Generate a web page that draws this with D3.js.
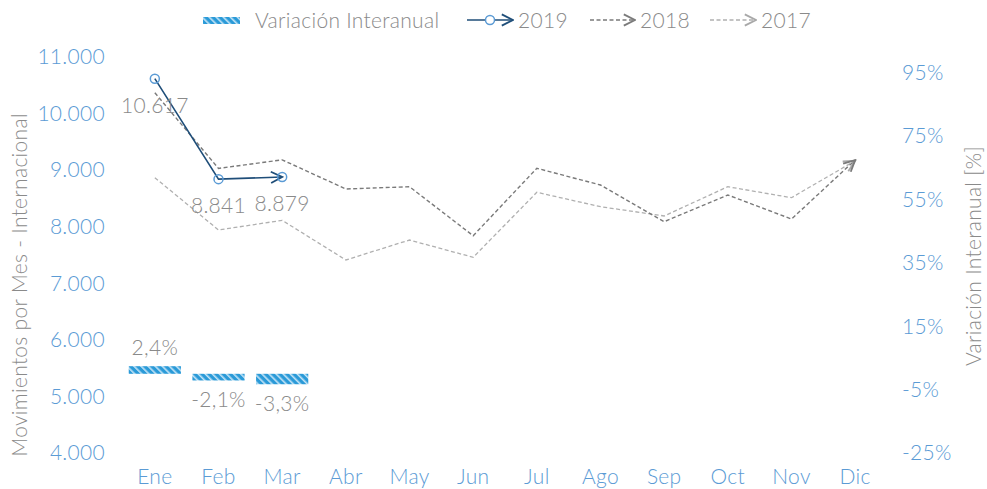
<!DOCTYPE html>
<html>
<head>
<meta charset="utf-8">
<script src="https://cdn.jsdelivr.net/npm/d3@7"></script>
<style>
  body { margin: 0; background: #fff; }
  svg { font-family: "Lato", "Open Sans", sans-serif; font-weight: 300; letter-spacing: 0.3px; }
</style>
</head>
<body>
<div id="graphContainer"></div>
<script>
// monthly international movements, with year-on-year change for 2019

var months = ["Ene", "Feb", "Mar", "Abr", "May", "Jun", "Jul", "Ago", "Sep", "Oct", "Nov", "Dic"];
var mov2019 = [10617, 8841, 8879];
var mov2018 = [10368, 9031, 9182, 8667, 8707, 7841, 9033, 8737, 8089, 8561, 8136, 9179];
var mov2017 = [8867, 7942, 8113, 7412, 7765, 7459, 8608, 8354, 8190, 8707, 8513, 9167];
var variacion = [2.4, -2.1, -3.3];
var leftTicks = [4000, 5000, 6000, 7000, 8000, 9000, 10000, 11000];
var rightTicks = [-25, -5, 15, 35, 55, 75, 95];

var width = 987, height = 489;
var padTop = 57, padBottom = 453, padLeft = 123, padRight = 887;
var fs = 21;

var blue = "#5b9bd5", gray = "#8a8a8a";

var svg = d3.select("#graphContainer")
  .append("svg")
  .attr("width", width)
  .attr("height", height);

var locale = d3.formatLocale({decimal: ",", thousands: ".", grouping: [3], currency: ["$", ""], minus: "-"});
var fmtN = locale.format(",.0f");
var fmtP = locale.format(".1f");

var xScale = d3.scaleBand().domain(months).range([padLeft, padRight]);
var yScale = d3.scaleLinear().domain([4000, 11000]).range([padBottom, padTop]);
var y2Scale = d3.scaleLinear().domain([-25, 100]).range([padBottom, padTop]);
var cx = function(i) { return xScale(months[i]) + xScale.bandwidth() / 2; };

// stripe pattern for the bars
var defs = svg.append("defs");
var pat = defs.append("pattern")
  .attr("id", "stripes")
  .attr("patternUnits", "userSpaceOnUse")
  .attr("width", 5).attr("height", 5)
  .attr("patternTransform", "rotate(-45)");
pat.append("rect").attr("width", 5).attr("height", 5).attr("fill", "#2a9ad8");
pat.append("rect").attr("width", 1.6).attr("height", 5).attr("fill", "#c4e4f6");

function arrow(id, color, size) {
  defs.append("marker")
    .attr("id", id)
    .attr("viewBox", "0 0 10 10")
    .attr("refX", 9).attr("refY", 5)
    .attr("markerUnits", "userSpaceOnUse")
    .attr("markerWidth", size).attr("markerHeight", size)
    .attr("orient", "auto")
    .append("path")
    .attr("d", "M1,1 L9,5 L1,9")
    .attr("fill", "none")
    .attr("stroke", color)
    .attr("stroke-width", 1.3);
}
arrow("arr19", "#1f4e79", 14);
arrow("arr18", "#7a7a7a", 14);
arrow("arr17", "#a8a8a8", 14);

// axes
var yAxis = d3.axisLeft(yScale).tickValues(leftTicks).tickFormat(fmtN).tickSize(0).tickPadding(18);
var gy = svg.append("g").attr("transform", `translate(${padLeft},0)`).call(yAxis);
var y2Axis = d3.axisRight(y2Scale).tickValues(rightTicks).tickFormat(function(d) { return d + "%"; }).tickSize(0).tickPadding(15);
var gy2 = svg.append("g").attr("transform", `translate(${padRight},0)`).call(y2Axis);
var xAxis = d3.axisBottom(xScale).tickSize(0).tickPadding(12);
var gx = svg.append("g").attr("transform", `translate(0,${padBottom})`).call(xAxis);

[gy, gy2, gx].forEach(function(g) {
  g.select(".domain").remove();
  g.selectAll("text")
    .attr("fill", blue)
    .attr("font-family", "Lato, sans-serif")
    .attr("font-weight", 300)
    .attr("font-size", fs);
});
gx.selectAll("text").attr("dy", "0.9em");

svg.append("text")
  .attr("transform", `translate(27,${(padTop + padBottom) / 2 + 30}) rotate(-90)`)
  .attr("text-anchor", "middle")
  .attr("fill", gray)
  .attr("font-size", fs)
  .text("Movimientos por Mes - Internacional");

svg.append("text")
  .attr("transform", `translate(981,256) rotate(-90)`)
  .attr("text-anchor", "middle")
  .attr("fill", gray)
  .attr("font-size", fs)
  .text("Variación Interanual [%]");

// variation bars
var bw = xScale.bandwidth() * 0.82;
svg.selectAll(".bar")
  .data(variacion)
  .join("rect")
  .attr("class", "bar")
  .attr("x", function(d, i) { return cx(i) - bw / 2; })
  .attr("y", function(d) { return y2Scale(Math.max(0, d)); })
  .attr("width", bw)
  .attr("height", function(d) { return Math.abs(y2Scale(d) - y2Scale(0)); })
  .attr("fill", "url(#stripes)");

svg.selectAll(".barlbl")
  .data(variacion)
  .join("text")
  .attr("class", "barlbl")
  .attr("x", function(d, i) { return cx(i); })
  .attr("y", function(d) { return d >= 0 ? y2Scale(d) - 11 : y2Scale(d) + 27; })
  .attr("text-anchor", "middle")
  .attr("fill", gray)
  .attr("font-size", fs)
  .text(function(d) { return fmtP(d) + "%"; });

// lines
var line = d3.line()
  .x(function(d, i) { return cx(i); })
  .y(function(d) { return yScale(d); });

svg.append("path")
  .datum(mov2017)
  .attr("d", line)
  .attr("fill", "none")
  .attr("stroke", "#b0b0b0")
  .attr("stroke-width", 1.3)
  .attr("stroke-dasharray", "4,2.5")
  .attr("marker-end", "url(#arr17)");

svg.append("path")
  .datum(mov2018)
  .attr("d", line)
  .attr("fill", "none")
  .attr("stroke", "#7a7a7a")
  .attr("stroke-width", 1.4)
  .attr("stroke-dasharray", "4,2.5")
  .attr("marker-end", "url(#arr18)");

svg.append("path")
  .datum(mov2019)
  .attr("d", line)
  .attr("fill", "none")
  .attr("stroke", "#1f4e79")
  .attr("stroke-width", 1.6)
  .attr("marker-end", "url(#arr19)");

svg.selectAll(".pt")
  .data(mov2019)
  .join("circle")
  .attr("class", "pt")
  .attr("cx", function(d, i) { return cx(i); })
  .attr("cy", function(d) { return yScale(d); })
  .attr("r", 4.5)
  .attr("fill", "none")
  .attr("stroke", blue)
  .attr("stroke-width", 1.5);

svg.selectAll(".ptlbl")
  .data(mov2019)
  .join("text")
  .attr("class", "ptlbl")
  .attr("x", function(d, i) { return cx(i); })
  .attr("y", function(d) { return yScale(d) + 34; })
  .attr("text-anchor", "middle")
  .attr("fill", gray)
  .attr("font-size", fs)
  .text(function(d) { return fmtN(d); });

// legend
var lg = svg.append("g").attr("font-size", fs).attr("fill", gray);
lg.append("rect").attr("x", 203).attr("y", 17).attr("width", 37).attr("height", 7).attr("fill", "url(#stripes)");
lg.append("text").attr("x", 255).attr("y", 28).text("Variación Interanual");

lg.append("line").attr("x1", 467).attr("x2", 513).attr("y1", 20).attr("y2", 20)
  .attr("stroke", "#1f4e79").attr("stroke-width", 1.6).attr("marker-end", "url(#arr19)");
lg.append("circle").attr("cx", 490).attr("cy", 20).attr("r", 4.5)
  .attr("fill", "#fff").attr("stroke", blue).attr("stroke-width", 1.5);
lg.append("text").attr("x", 518).attr("y", 28).text("2019");

lg.append("line").attr("x1", 590).attr("x2", 635).attr("y1", 20).attr("y2", 20)
  .attr("stroke", "#7a7a7a").attr("stroke-width", 1.4).attr("stroke-dasharray", "4,2.5").attr("marker-end", "url(#arr18)");
lg.append("text").attr("x", 640).attr("y", 28).text("2018");

lg.append("line").attr("x1", 710).attr("x2", 756).attr("y1", 20).attr("y2", 20)
  .attr("stroke", "#b0b0b0").attr("stroke-width", 1.3).attr("stroke-dasharray", "4,2.5").attr("marker-end", "url(#arr17)");
lg.append("text").attr("x", 761).attr("y", 28).text("2017");
</script>
</body>
</html>
